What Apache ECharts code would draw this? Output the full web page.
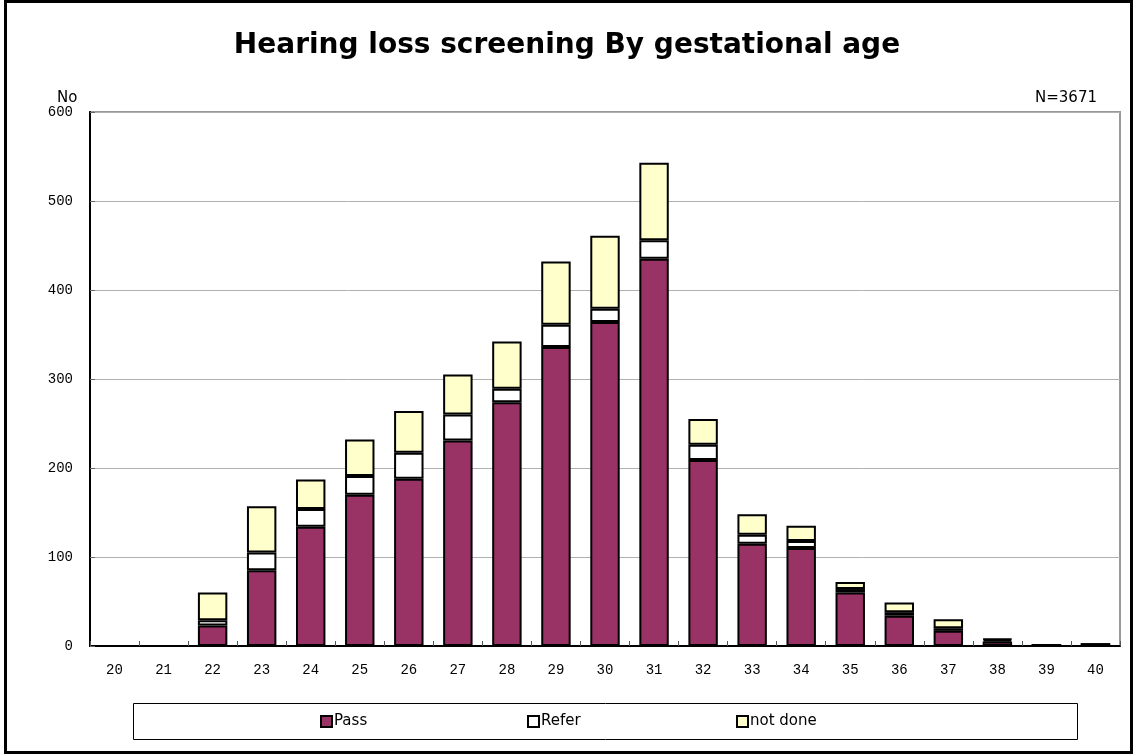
<!DOCTYPE html>
<html>
<head>
<meta charset="utf-8">
<script src="https://cdn.jsdelivr.net/npm/echarts@6/dist/echarts.min.js"></script>
<style>
  html, body { margin: 0; padding: 0; background: #fff; }
  #chart { width: 1134px; height: 755px; }
</style>
</head>
<body>
<div id="chart"></div>
<script>
// Gestational age in weeks
const ages = ['20','21','22','23','24','25','26','27','28','29','30','31','32','33','34','35','36','37','38','39','40'];
// Screening outcome counts per week
const pass    = [0, 0, 23, 85, 134, 170, 188, 231, 274, 336, 364, 435, 209, 115, 110, 60, 34, 17, 5, 1, 2];
const refer   = [0, 0,  6, 20,  20,  21,  29,  29,  15,  25,  15,  21,  17,  10,   8,  4,  4,  3, 2, 0, 0];
const notDone = [0, 0, 31, 52,  33,  41,  47,  45,  53,  71,  82,  87,  29,  23,  17,  8, 11, 10, 1, 0, 0];
const seriesNames = ['Pass', 'Refer', 'not done'];
const seriesColors = ['#993366', '#ffffff', '#ffffcc'];
const yTicks = { min: 0, max: 600, interval: 100 };

const chart = echarts.init(document.getElementById('chart'));
const monoFont = '"Liberation Mono", "DejaVu Sans Mono", monospace';
const sansFont = '"DejaVu Sans", Verdana, sans-serif';

const dataSets = [pass, refer, notDone];
const series = seriesNames.map((name, i) => ({
  name: name,
  type: 'bar',
  stack: 'total',
  barWidth: '60%',
  data: dataSets[i],
  itemStyle: { color: seriesColors[i], borderColor: '#000', borderWidth: 2 },
  emphasis: { disabled: true }
}));

// one legend per series so each entry sits at its own spot inside the box
const legendLefts = [320, 527, 736];
const legends = seriesNames.map((name, i) => ({
  data: [name],
  left: legendLefts[i],
  top: 714,
  itemWidth: 11,
  itemHeight: 11,
  itemGap: 0,
  padding: 0,
  icon: 'rect',
  itemStyle: { borderColor: '#000', borderWidth: 2 },
  textStyle: { fontFamily: sansFont, fontSize: 15, color: '#000', padding: [0, 0, 0, -3] },
  selectedMode: false
}));

chart.setOption({
  animation: false,
  backgroundColor: '#fff',
  title: [
    {
      text: 'Hearing loss screening By gestational age',
      left: 'center',
      top: 27,
      textStyle: { fontFamily: sansFont, fontWeight: 'bold', fontSize: 28, color: '#000' }
    },
    {
      text: 'No',
      left: 52,
      top: 86,
      textStyle: { fontFamily: sansFont, fontWeight: 'normal', fontSize: 15, color: '#000' }
    },
    {
      text: 'N=3671',
      right: 32,
      top: 86,
      textStyle: { fontFamily: sansFont, fontWeight: 'normal', fontSize: 15, color: '#000' }
    }
  ],
  legend: legends,
  graphic: [
    {
      type: 'rect',
      shape: { x: 5.5, y: 1.5, width: 1126, height: 751 },
      style: { fill: 'none', stroke: '#000', lineWidth: 3 },
      silent: true
    },
    {
      type: 'rect',
      shape: { x: 133.5, y: 703.5, width: 944, height: 36 },
      style: { fill: 'none', stroke: '#000', lineWidth: 1 },
      silent: true
    }
  ],
  grid: {
    left: 90,
    right: 14,
    top: 112,
    bottom: 109,
    show: true,
    borderColor: '#999',
    borderWidth: 2,
    containLabel: false
  },
  xAxis: {
    type: 'category',
    data: ages,
    axisLine: { lineStyle: { color: '#000', width: 2 } },
    axisTick: { show: true, inside: true, length: 5, lineStyle: { color: '#555' } },
    axisLabel: { fontFamily: monoFont, fontSize: 14, color: '#000', margin: 17 }
  },
  yAxis: {
    type: 'value',
    min: yTicks.min,
    max: yTicks.max,
    interval: yTicks.interval,
    axisLine: { show: true, lineStyle: { color: '#000', width: 2 } },
    axisTick: { show: true, inside: true, length: 5, lineStyle: { color: '#666' } },
    splitLine: { lineStyle: { color: '#b0b0b0', width: 1 } },
    axisLabel: { fontFamily: monoFont, fontSize: 14, color: '#000', margin: 17 }
  },
  series: series
});
</script>
</body>
</html>
